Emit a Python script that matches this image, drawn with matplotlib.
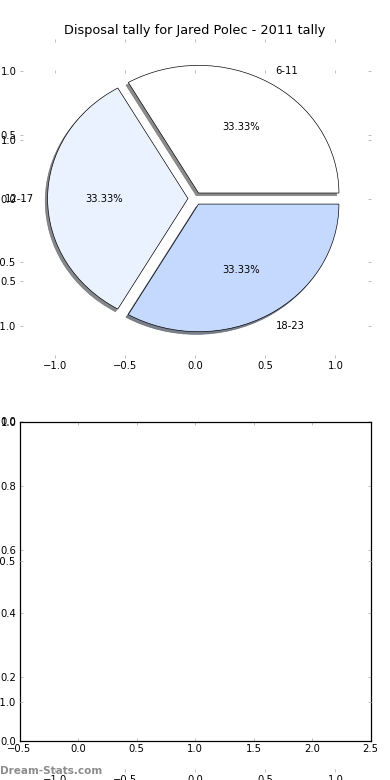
import matplotlib
matplotlib.use("Agg")
import matplotlib.pyplot as plt
import numpy as np

plt.rc('font', size=12)

title = "Disposal tally for Jared Polec - 2011 tally"
quarters = ['6-11', '12-17', '18-23']
disposals = [1, 1, 1]
quarter_colors = ['#ffffff', '#eaf1ff', '#c5d9ff']
bar_values = [0, 0, 0]
pie_ticks = [-1.0, -0.5, 0.0, 0.5, 1.0]
bar_yticks = [0.0, 0.2, 0.4, 0.6, 0.8, 1.0]
bar_xticks = [-0.5, 0.0, 0.5, 1.0, 1.5, 2.0, 2.5]
tick_grey = '#c0c0c0'


def style_ticks(ax):
    ax.tick_params(direction='in', color=tick_grey, labelcolor='black',
                   top=True, right=True, length=4, width=1.2)


fig = plt.figure(figsize=(6.5, 13), dpi=60)
fig.subplots_adjust(left=0.05, right=0.95, bottom=0.05, top=0.95, hspace=0.2)

# top pie
ax1 = fig.add_subplot(2, 1, 1)
ax1.pie(disposals, labels=quarters, colors=quarter_colors, autopct='%1.2f%%',
        explode=[0.05] * 3, startangle=0,
        shadow={'ox': -0.02, 'oy': -0.025, 'shade': 0.6, 'alpha': 0.75},
        wedgeprops={'edgecolor': 'black', 'linewidth': 0.8})
ax1.set_aspect('auto')
ax1.set_frame_on(False)
ax1.set_xlim(-1.25, 1.25)
ax1.set_ylim(-1.25, 1.25)
ax1.set_xticks(pie_ticks)
ax1.set_yticks(pie_ticks)
style_ticks(ax1)
ax1.set_title(title, fontsize=15.5)

# empty bar panel
ax2 = fig.add_subplot(2, 1, 2)
ax2.bar(np.arange(len(bar_values)), bar_values, linewidth=0)
ax2.set_xlim(-0.5, 2.5)
ax2.set_ylim(0, 1)
ax2.set_xticks(bar_xticks)
ax2.set_yticks(bar_yticks)
for s in ax2.spines.values():
    s.set_linewidth(1.5)
style_ticks(ax2)

# second (empty) pie axes laid over everything
ax3 = fig.add_axes([0.05, 0.0103, 0.9, 0.9])
ax3.set_frame_on(False)
ax3.set_xlim(-1.25, 1.25)
ax3.set_ylim(-1.25, 1.25)
ax3.set_xticks(pie_ticks)
ax3.set_yticks(pie_ticks)
style_ticks(ax3)

fig.text(0.0, 0.0115, 'Dream-Stats.com', color='#8c8c8c', fontsize=12.5,
         fontweight='bold', ha='left', va='center')

fig.savefig('out.png', dpi=60)
